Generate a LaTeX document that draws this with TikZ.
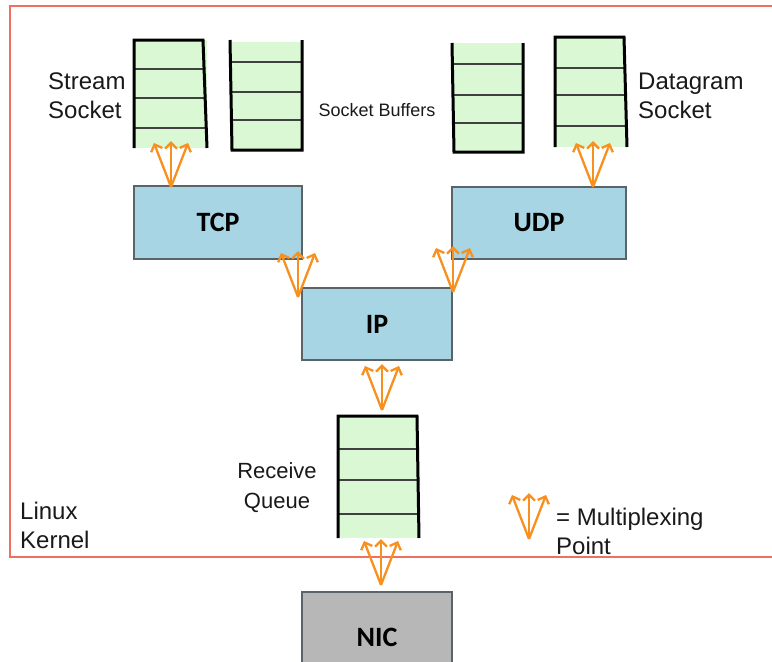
\documentclass[tikz,border=0pt]{standalone}
\usepackage{fontspec}
\setmainfont{Liberation Sans}
\newfontfamily\boxfont{Carlito}
\usetikzlibrary{arrows.meta}
\definecolor{bufgreen}{HTML}{D9F8D3}
\definecolor{layerblue}{HTML}{A8D5E3}
\definecolor{nicgray}{HTML}{B7B7B7}
\definecolor{muxorange}{HTML}{F7901E}
\definecolor{kernelred}{HTML}{F0705F}
\definecolor{edgegray}{HTML}{5A6468}
\tikzset{
  layer/.style={draw=edgegray, line width=1.3pt, fill=layerblue, inner sep=0pt,
    font=\boxfont\bfseries\fontsize{28}{32}\selectfont},
  bufcell/.style={fill=bufgreen, draw=none, inner sep=0pt},
  bufwall/.style={line width=3pt, black},
  bufline/.style={line width=1.3pt, black!75},
  lbl/.style={font=\fontsize{24}{29}\selectfont, inner sep=0pt, text=black!90},
  muxarrow/.style={muxorange, line width=2.3pt, -{Straight Barb[length=6pt,width=12pt,line width=2.3pt]}},
  pics/muxpt/.style={code={
    \coordinate (-base) at (0,0);
    \coordinate (-l) at (-17,-44);
    \coordinate (-m) at (0,-46);
    \coordinate (-r) at (17,-44);
    \draw[muxarrow] (-base) -- (-l);
    \draw[muxarrow] (-base) -- (-m);
    \draw[muxarrow] (-base) -- (-r);
  }}
}
\begin{document}
\begin{tikzpicture}[x=1pt,y=-1pt]
\useasboundingbox (0,0) rectangle (772,662);
% kernel frame
\draw[kernelred, line width=1.6pt] (10,6) rectangle (790,557);

% protocol boxes
\node[layer, minimum width=168pt, minimum height=73pt] (tcp) at (218,222.5) {TCP};
\node[layer, minimum width=174pt, minimum height=72pt] (udp) at (539,223) {UDP};
\node[layer, minimum width=150pt, minimum height=72pt] (ip) at (377,324) {IP};
\node[layer, fill=nicgray, minimum width=150pt, minimum height=90pt] (nic) at (377,637) {NIC};

% stream socket buffer (open at bottom)
\node[bufcell, minimum width=72pt, minimum height=108pt] (sbuf) at (170.5,94) {};
\draw[bufline] (134,69) -- (205,69) (134,98) -- (205.5,98) (134,128) -- (206.5,128);
\draw[bufwall] (134,148) -- (134,40) -- (203,40) -- (207,148);

% socket buffer 2 (open at top)
\node[bufcell, minimum width=72pt, minimum height=108pt] (b2) at (266,96) {};
\draw[bufline] (231,62) -- (302,62) (231,92) -- (302,92) (231,120) -- (302,120);
\draw[bufwall] (230,40) -- (232,150) -- (302,150) -- (302,40);

% socket buffer 3 (open at top)
\node[bufcell, minimum width=71pt, minimum height=108pt] (b3) at (488,97) {};
\draw[bufline] (453,64) -- (523,64) (453,95) -- (523,95) (453,123) -- (523,123);
\draw[bufwall] (452,43) -- (454,152) -- (523,152) -- (523,43);

% datagram socket buffer (open at bottom)
\node[bufcell, minimum width=71pt, minimum height=110pt] (dbuf) at (590,92) {};
\draw[bufline] (555,68) -- (625,68) (555,95) -- (626,95) (555,126) -- (627,126);
\draw[bufwall] (555,147) -- (555,37) -- (624,37) -- (627,147);

% receive queue (open at bottom)
\node[bufcell, minimum width=80pt, minimum height=122pt] (rq) at (378,477) {};
\draw[bufline] (338,449) -- (418,449) (338,480) -- (418,480) (338,514) -- (419,514);
\draw[bufwall] (338,538) -- (338,416) -- (417,416) -- (419,538);

% multiplexing points
\pic (m1) at (171,187) {muxpt};
\pic (m2) at (593,187) {muxpt};
\pic (m3) at (298,297) {muxpt};
\pic (m4) at (453,292) {muxpt};
\pic (m5) at (382,410) {muxpt};
\pic (m6) at (381,585) {muxpt};
\pic (m7) at (529,539) {muxpt};

% labels
\node[lbl, align=left, anchor=west] (lstream) at (48,96) {Stream\\Socket};
\node[lbl, align=left, anchor=west] (ldgram) at (638,96) {Datagram\\Socket};
\node[lbl, font=\fontsize{18}{22}\selectfont] (lbuf) at (377,110) {Socket Buffers};
\node[lbl, align=center, font=\fontsize{22}{30}\selectfont] (lrq) at (277,488) {Receive\\Queue};
\node[lbl, align=left, anchor=west] (lkern) at (20,525) {Linux\\Kernel};
\node[lbl, align=left, anchor=west] (lmux) at (556,531) {= Multiplexing\\Point};
\end{tikzpicture}
\end{document}
